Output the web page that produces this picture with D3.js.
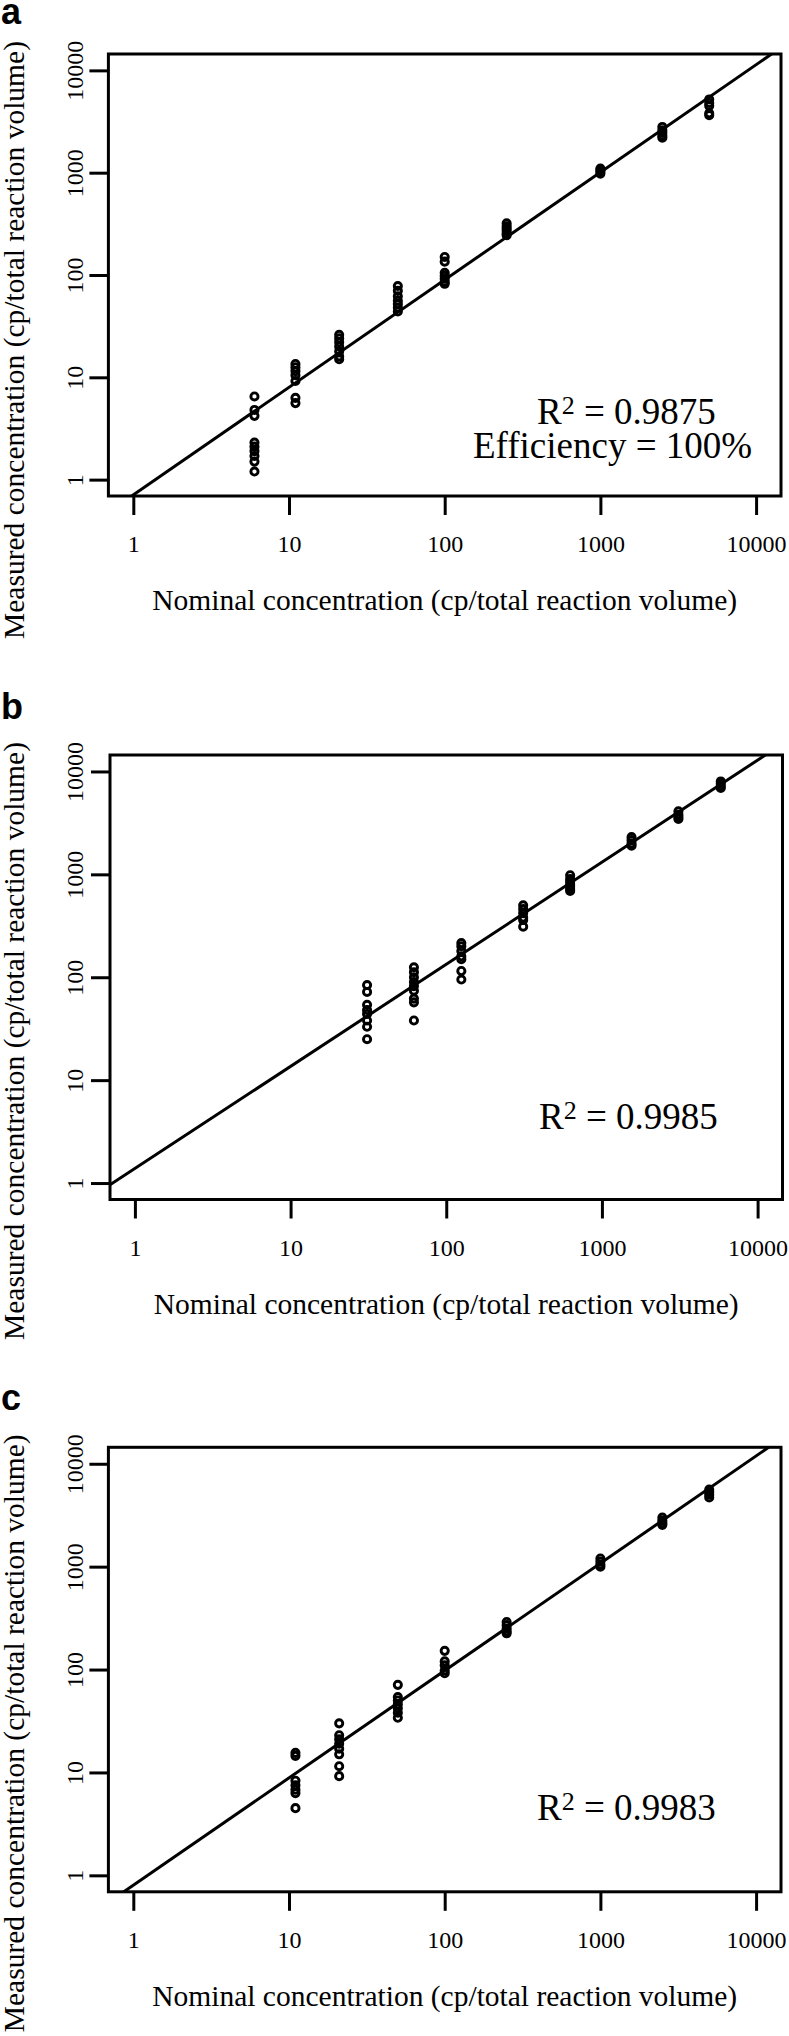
<!DOCTYPE html>
<html><head><meta charset="utf-8">
<script src="https://cdn.jsdelivr.net/npm/d3@7"></script>
<style>body{margin:0;background:#fff}svg{display:block}</style>
</head><body>
<svg id="chart" width="789" height="2036"></svg>
<script>
// ---------- data ----------
const tickValues = [1, 10, 100, 1000, 10000];
const tickLabels = ["1", "10", "100", "1000", "10000"];
const axisLimits = [1, 10000];
const panelLetters = ["a", "b", "c"];
const xTitle = "Nominal concentration (cp/total reaction volume)";
const yTitle = "Measured concentration (cp/total reaction volume)";
const r2Values = ["0.9875", "0.9985", "0.9983"];
const efficiencyText = "Efficiency = 100%";
const fitIntercepts = [-0.149, 0.142, -0.096];
const fitSlopes = [1.051, 0.992, 1.043];

const nominalA = [6, 11, 21, 50, 100, 250, 1000, 2500, 5000];
const measuredA = [
  [6.5, 4.8, 4.2, 2.3, 2.1, 1.9, 1.7, 1.5, 1.2],
  [13.5, 12.5, 11.5, 10.5, 9.2, 6.3, 5.6],
  [26, 24, 22, 20, 18, 16, 15],
  [78, 70, 62, 56, 52, 48, 44],
  [150, 135, 105, 98, 92, 86, 82],
  [320, 300, 285, 270, 255, 245],
  [1100, 1060, 1020, 980],
  [2800, 2600, 2450, 2300, 2200],
  [5200, 4800, 4500, 3800, 3650]
];

const nominalB = [31, 62, 125, 312, 625, 1550, 3100, 5800];
const measuredB = [
  [84, 72, 54, 48, 44, 38, 33, 25],
  [125, 112, 100, 90, 82, 74, 62, 57, 38],
  [215, 200, 180, 160, 150, 115, 95],
  [500, 460, 420, 380, 360, 310],
  [980, 900, 850, 800, 760, 720, 690],
  [2300, 2150, 2000, 1900],
  [4100, 3800, 3600, 3450],
  [8000, 7600, 7200, 6900]
];

const nominalC = [11, 21, 50, 100, 250, 1000, 2500, 5000];
const measuredC = [
  [15.5, 14.5, 8.3, 7.5, 6.8, 6.3, 4.5],
  [30, 23, 21, 19, 17, 15, 11.5, 9.2],
  [71, 54, 50, 46, 42, 38, 34],
  [152, 120, 110, 98, 92],
  [290, 270, 250, 235, 225],
  [1200, 1120, 1050, 1000],
  [3000, 2800, 2650, 2550],
  [5600, 5300, 5000, 4700]
];

// ---------- layout ----------
const layouts = [
  {left: 108.4, right: 781, top: 54, bottom: 496, letterY: 24, r2x: 537, r2y: 424, effx: 473, effy: 457.6},
  {left: 110, right: 782.5, top: 755, bottom: 1199.5, letterY: 719, r2x: 539, r2y: 1129},
  {left: 108.4, right: 781, top: 1447.3, bottom: 1891.8, letterY: 1410, r2x: 537, r2y: 1820}
];
const nominals = [nominalA, nominalB, nominalC];
const measureds = [measuredA, measuredB, measuredC];

const serif = "'Liberation Serif','Times New Roman',Times,serif";
const sans = "'Liberation Sans',Arial,Helvetica,sans-serif";
const svg = d3.select("#chart");

// R-style 4% extension of the log range
const lo = Math.log10(axisLimits[0]), hi = Math.log10(axisLimits[1]);
const ext = (hi - lo) * 0.04;
const domain = [Math.pow(10, lo - ext), Math.pow(10, hi + ext)];

layouts.forEach((L, i) => {
  const g = svg.append("g");
  const x = d3.scaleLog().domain(domain).range([L.left, L.right]);
  const y = d3.scaleLog().domain(domain).range([L.bottom, L.top]);

  const clipId = "clip" + i;
  svg.append("defs").append("clipPath").attr("id", clipId)
    .append("rect").attr("x", L.left).attr("y", L.top)
    .attr("width", L.right - L.left).attr("height", L.bottom - L.top);

  // x axis
  const xAxis = d3.axisBottom(x).tickValues(tickValues)
    .tickFormat((d, k) => tickLabels[k]).tickSize(19).tickPadding(0);
  const gx = g.append("g").attr("transform", `translate(0,${L.bottom})`).call(xAxis)
    .attr("font-family", null).attr("font-size", null);
  gx.select(".domain").remove();
  gx.selectAll(".tick line").attr("stroke", "#000").attr("stroke-width", 3);
  gx.selectAll(".tick text").attr("y", 56).attr("dy", 0)
    .style("font-family", serif).style("font-size", "24px").attr("fill", "#000");

  // y axis
  const yAxis = d3.axisLeft(y).tickValues(tickValues)
    .tickFormat((d, k) => tickLabels[k]).tickSize(19).tickPadding(0);
  const gy = g.append("g").attr("transform", `translate(${L.left},0)`).call(yAxis)
    .attr("font-family", null).attr("font-size", null);
  gy.select(".domain").remove();
  gy.selectAll(".tick line").attr("stroke", "#000").attr("stroke-width", 3);
  gy.selectAll(".tick text").attr("dy", null)
    .attr("transform", `translate(${83 - L.left},0) rotate(-90)`)
    .attr("text-anchor", "middle").attr("x", 0).attr("y", 0)
    .style("font-family", serif).style("font-size", "24px").attr("fill", "#000");

  // points
  const pts = [];
  nominals[i].forEach((nx, k) => measureds[i][k].forEach(v => pts.push([nx, v])));
  g.append("g").selectAll("circle").data(pts).join("circle")
    .attr("cx", d => x(d[0])).attr("cy", d => y(d[1])).attr("r", 3.6)
    .attr("fill", "none").attr("stroke", "#000").attr("stroke-width", 2.9);

  // regression line
  const fy = v => Math.pow(10, fitIntercepts[i] + fitSlopes[i] * Math.log10(v));
  const lineData = [domain[0], domain[1]];
  g.append("path").attr("clip-path", `url(#${clipId})`)
    .attr("d", d3.line().x(d => x(d)).y(d => y(fy(d)))(lineData))
    .attr("stroke", "#000").attr("stroke-width", 3).attr("fill", "none");

  // box
  g.append("rect").attr("x", L.left).attr("y", L.top)
    .attr("width", L.right - L.left).attr("height", L.bottom - L.top)
    .attr("fill", "none").attr("stroke", "#000").attr("stroke-width", 3);

  // titles
  g.append("text").attr("x", (L.left + L.right) / 2).attr("y", L.bottom + 114)
    .attr("text-anchor", "middle").style("font-family", serif).style("font-size", "29.5px")
    .text(xTitle);
  g.append("text").attr("transform", `translate(24,${L.top + 286}) rotate(-90)`)
    .attr("text-anchor", "middle").style("font-family", serif).style("font-size", "29.5px")
    .text(yTitle);

  // panel letter
  g.append("text").attr("x", 1).attr("y", L.letterY)
    .style("font-family", sans).style("font-weight", "bold").style("font-size", "36px")
    .text(panelLetters[i]);

  // R^2 annotation
  const t = g.append("text").attr("x", L.r2x).attr("y", L.r2y)
    .style("font-family", serif).style("font-size", "37px");
  t.append("tspan").text("R");
  t.append("tspan").attr("dy", -10).style("font-size", "26px").text("2");
  t.append("tspan").attr("dy", 10).text(" = " + r2Values[i]);
  if (L.effx !== undefined) {
    g.append("text").attr("x", L.effx).attr("y", L.effy)
      .style("font-family", serif).style("font-size", "37px").text(efficiencyText);
  }
});
</script>
</body></html>
